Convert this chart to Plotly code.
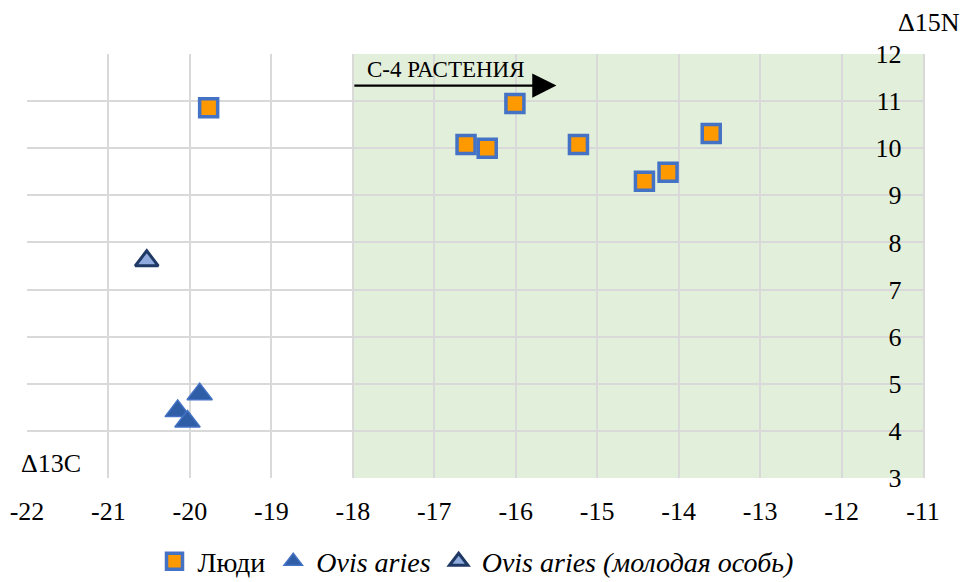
import plotly.graph_objects as go

# Data
people_x = [-19.77, -16.61, -16.35, -16.01, -15.23, -14.42, -14.13, -13.60]
people_y = [10.86, 10.08, 10.00, 10.95, 10.08, 9.30, 9.49, 10.31]
ovis_x = [-19.88, -20.15, -20.03]
ovis_y = [4.78, 4.42, 4.20]
young_x = [-20.53]
young_y = [7.61]
x_ticks = list(range(-22, -10))
x_tick_labels = [str(v) for v in x_ticks]
y_ticks = list(range(3, 13))
y_tick_labels = [str(v) for v in y_ticks]
c4_zone = [-18, -11]
arrow_x = [-18, -15.5]
arrow_y = 11.33

FONT = "Liberation Serif, Times New Roman, serif"

fig = go.Figure()
fig.add_trace(go.Scatter(
    x=people_x, y=people_y, mode="markers", name="Люди",
    marker=dict(symbol="square", size=18, color="#FF9900",
                line=dict(color="#4472C4", width=3.5))))
fig.add_trace(go.Scatter(
    x=ovis_x, y=ovis_y, mode="markers", name="<i>Ovis aries</i>",
    marker=dict(symbol="triangle-up", size=22, color="#2F5DA6",
                line=dict(color="#4472C4", width=1.5))))
fig.add_trace(go.Scatter(
    x=young_x, y=young_y, mode="markers", name="<i>Ovis aries (молодая особь)</i>",
    marker=dict(symbol="triangle-up", size=20, color="#8FAADC",
                line=dict(color="#1F3864", width=3))))

fig.add_shape(type="rect", xref="x", yref="y", x0=c4_zone[0], x1=c4_zone[1],
              y0=y_ticks[0], y1=y_ticks[-1], fillcolor="#E2EFDA",
              line=dict(width=0), layer="below")

fig.add_annotation(x=arrow_x[1], y=arrow_y, ax=arrow_x[0], ay=arrow_y,
                   xref="x", yref="y", axref="x", ayref="y",
                   showarrow=True, arrowhead=2, arrowsize=2.2, arrowwidth=2.2,
                   arrowcolor="black", text="")
fig.add_annotation(x=arrow_x[0], y=arrow_y, xref="x", yref="y",
                   text="С-4 РАСТЕНИЯ", showarrow=False, xanchor="left",
                   yanchor="bottom", xshift=12, yshift=2,
                   font=dict(family=FONT, size=23, color="black"))
fig.add_annotation(x=0, y=0, xref="paper", yref="paper", text="Δ13C",
                   showarrow=False, xanchor="left", yanchor="middle",
                   xshift=-8, yshift=15, font=dict(family=FONT, size=26, color="black"))
fig.add_annotation(x=1, y=1, xref="paper", yref="paper", text="Δ15N",
                   showarrow=False, xanchor="right", yanchor="middle",
                   xshift=39, yshift=32, font=dict(family=FONT, size=26, color="black"))

fig.update_xaxes(range=[x_ticks[0], x_ticks[-1]], tickvals=x_ticks, ticktext=x_tick_labels,
                 showgrid=True, gridcolor="#D9D9D9", gridwidth=1.5,
                 zeroline=False, showline=False, ticks="",
                 ticklabelstandoff=15, automargin=False, ticklabeloverflow="allow",
                 tickfont=dict(family=FONT, size=26, color="black"))
fig.update_yaxes(range=[y_ticks[0], y_ticks[-1]], tickvals=y_ticks, ticktext=y_tick_labels,
                 side="right", ticklabelposition="inside",
                 showgrid=True, gridcolor="#D9D9D9", gridwidth=1.5,
                 zeroline=False, showline=True, linecolor="#D9D9D9", linewidth=1.5,
                 ticks="inside", ticklen=22, tickcolor="rgba(0,0,0,0)",
                 ticklabelstandoff=2, automargin=False, ticklabeloverflow="allow",
                 tickfont=dict(family=FONT, size=26, color="black"))

fig.update_layout(
    width=964, height=582, autosize=False,
    margin=dict(l=27, r=41, t=54, b=104, autoexpand=False),
    plot_bgcolor="white", paper_bgcolor="white",
    showlegend=True,
    legend=dict(orientation="h", x=0.5, xanchor="center", y=-0.197, yanchor="middle",
                font=dict(family=FONT, size=28, color="black"),
                itemwidth=36, tracegroupgap=0),
)

fig.write_html("out.html",
               config=dict(responsive=False, displayModeBar=False),
               post_script="document.body.style.margin='0px';")
